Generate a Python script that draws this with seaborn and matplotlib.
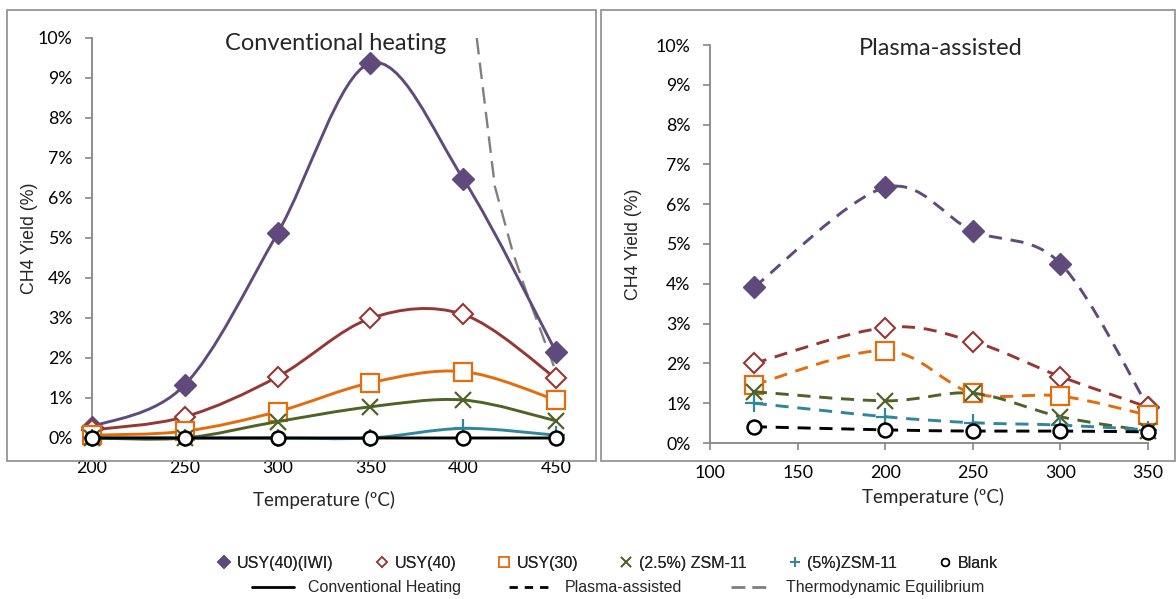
import numpy as np
import matplotlib
matplotlib.use("Agg")
import matplotlib.pyplot as plt
from matplotlib.path import Path
from matplotlib.patches import PathPatch, Rectangle
from matplotlib.lines import Line2D
from matplotlib.ticker import FuncFormatter, MultipleLocator
import seaborn as sns

# Conventional heating: temperature (°C) and CH4 yield (%)
conv_temp = [200, 250, 300, 350, 400, 450]
conv_usy40_iwi = [0.28, 1.33, 5.12, 9.37, 6.48, 2.15]
conv_usy40 = [0.20, 0.53, 1.53, 2.99, 3.09, 1.49]
conv_usy30 = [0.07, 0.17, 0.66, 1.38, 1.66, 0.95]
conv_zsm11_25 = [0.0, 0.0, 0.41, 0.78, 0.95, 0.43]
conv_zsm11_5 = [0.0, 0.0, 0.0, 0.0, 0.24, 0.07]
conv_blank = [0.0, 0.0, 0.0, 0.0, 0.0, 0.0]

# Thermodynamic equilibrium CH4 yield (%)
eq_temp = [407.3, 417.1, 426.8, 434.2, 443.0, 450.0]
eq_yield = [10.0, 6.28, 4.63, 3.63, 2.53, 1.65]

# Plasma-assisted: temperature (°C) and CH4 yield (%)
plasma_temp = [125, 200, 250, 300, 350]
plasma_usy40_iwi = [3.91, 6.42, 5.33, 4.51, 0.91]
plasma_usy40 = [2.00, 2.90, 2.55, 1.67, 0.90]
plasma_usy30 = [1.46, 2.32, 1.25, 1.18, 0.70]
plasma_zsm11_25 = [1.29, 1.06, 1.25, 0.66, 0.30]
plasma_zsm11_5 = [1.00, 0.66, 0.51, 0.45, 0.33]
plasma_blank = [0.41, 0.33, 0.30, 0.30, 0.28]

series_labels = ["USY(40)(IWI)", "USY(40)", "USY(30)", "(2.5%) ZSM-11", "(5%)ZSM-11", "Blank"]
mode_labels = ["Conventional Heating", "Plasma-assisted", "Thermodynamic Equilibrium"]

PURPLE, RED, ORANGE, GREEN, TEAL, BLACK = "#604A7B", "#953735", "#E46C0A", "#4F6228", "#31859C", "#000000"
GRAY = "#7F7F7F"
AXIS_GRAY = "#868686"

# marker style per catalyst: (marker, size, face, edge, edge width)
styles = [
    ("D", 11, PURPLE, PURPLE, 1.0),
    ("D", 10, "white", RED, 1.5),
    ("s", 12.5, "white", ORANGE, 1.6),
    ("x", 12, GREEN, GREEN, 1.6),
    ("+", 13, TEAL, TEAL, 1.6),
    ("o", 10, "white", BLACK, 1.8),
]

sns.set_theme(style="white")
plt.rcParams["font.family"] = ["Lato", "DejaVu Sans"]
ARIAL = ["Liberation Sans", "DejaVu Sans"]


def smooth_path(x, y):
    """Cubic Bezier path through the points (Catmull-Rom style smoothing)."""
    pts = np.column_stack([x, y]).astype(float)
    n = len(pts)
    verts = [pts[0]]
    codes = [Path.MOVETO]
    for i in range(n - 1):
        p0 = pts[i - 1] if i > 0 else pts[i]
        p1, p2 = pts[i], pts[i + 1]
        p3 = pts[i + 2] if i + 2 < n else pts[i + 1]
        verts += [p1 + (p2 - p0) / 6.0, p2 - (p3 - p1) / 6.0, p2]
        codes += [Path.CURVE4] * 3
    return Path(verts, codes)


def draw_series(ax, x, y, style, color, dashes, z):
    marker, ms, face, edge, mew = style
    ls = (0, dashes) if dashes else "-"
    ax.add_patch(PathPatch(smooth_path(x, y), facecolor="none", edgecolor=color,
                           lw=2.1, linestyle=ls, capstyle="butt", zorder=z,
                           clip_on=False))
    sns.lineplot(x=x, y=y, ax=ax, marker=marker, markersize=ms,
                 markerfacecolor=face, markeredgecolor=edge, markeredgewidth=mew,
                 linestyle="none", color=color, clip_on=False, zorder=z + 0.05)


def style_axes(ax, xmin, xmax):
    ax.set_xlim(xmin, xmax)
    ax.set_ylim(0, 10)
    ax.xaxis.set_major_locator(MultipleLocator(50))
    ax.yaxis.set_major_locator(MultipleLocator(1))
    ax.yaxis.set_major_formatter(FuncFormatter(lambda v, p: f"{v:.0f}%"))
    for side in ("top", "right"):
        ax.spines[side].set_visible(False)
    for side in ("left", "bottom"):
        ax.spines[side].set_color(AXIS_GRAY)
        ax.spines[side].set_linewidth(1.3)
        ax.spines[side].set_zorder(1)
    ax.tick_params(axis="both", which="major", direction="out", length=5, width=1.2,
                   color=AXIS_GRAY, labelsize=12.8, labelcolor="black")
    ax.tick_params(axis="x", pad=11, bottom=True)
    ax.tick_params(axis="y", pad=9, left=True)
    ax.grid(False)
    ax.set_facecolor("none")
    ax.set_xlabel("Temperature (ºC)", fontsize=13.5)
    ax.set_ylabel("CH4 Yield (%)", fontsize=12.8, family=ARIAL)
    ax.xaxis.label.set_va("center")
    ax.yaxis.label.set_va("center")


W, H = 1176, 599
fig = plt.figure(figsize=(W / 100, H / 100), dpi=100)
fig.patch.set_facecolor("white")

# chart-area frames
fig.add_artist(Rectangle((7 / W, 1 - 461 / H), (596 - 7) / W, (461 - 10) / H,
                         transform=fig.transFigure, fill=False, ec="#8C8C8C", lw=1.2))
fig.add_artist(Rectangle((601 / W, 1 - 461 / H), (1175 - 601) / W, (461 - 10) / H,
                         transform=fig.transFigure, fill=False, ec="#8C8C8C", lw=1.2))

ax1 = fig.add_axes([92 / W, 1 - 438 / H, (556 - 92) / W, 400 / H])
ax2 = fig.add_axes([710 / W, 1 - 443 / H, (1148 - 710) / W, 398 / H])

conv_series = [conv_usy40_iwi, conv_usy40, conv_usy30, conv_zsm11_25, conv_zsm11_5, conv_blank]
plasma_series = [plasma_usy40_iwi, plasma_usy40, plasma_usy30, plasma_zsm11_25, plasma_zsm11_5, plasma_blank]
colors = [PURPLE, RED, ORANGE, GREEN, TEAL, BLACK]

# thermodynamic equilibrium curve
ax1.plot(eq_temp, eq_yield, color=GRAY, lw=1.7, dashes=(7, 3.5), zorder=2.5)

for k, (ys, st, c) in enumerate(zip(conv_series, styles, colors)):
    draw_series(ax1, conv_temp, ys, st, c, None, 3 + 0.1 * k)
for k, (ys, st, c) in enumerate(zip(plasma_series, styles, colors)):
    draw_series(ax2, plasma_temp, ys, st, c, (4.5, 3), 3 + 0.1 * k)

style_axes(ax1, 200, 450)
style_axes(ax2, 100, 350)

ax1.xaxis.set_label_coords(0.5, -0.155)
ax1.yaxis.set_label_coords(-0.134, 0.5)
ax2.xaxis.set_label_coords(0.508, -0.136)
ax2.yaxis.set_label_coords(-0.174, 0.5)

ax1.text(0.526, 0.985, "Conventional heating", transform=ax1.transAxes,
         ha="center", va="center", fontsize=17)
ax2.text(0.527, 0.99, "Plasma-assisted", transform=ax2.transAxes,
         ha="center", va="center", fontsize=17)

# legends
marker_handles = []
for (marker, ms, face, edge, mew), c in zip(styles, colors):
    marker_handles.append(Line2D([], [], linestyle="none", marker=marker, markersize=ms * 0.55,
                                 markerfacecolor=face, markeredgecolor=edge,
                                 markeredgewidth=1.2))
leg1 = fig.legend(marker_handles, series_labels, loc="center", bbox_to_anchor=(0.517, 0.06),
                  ncol=6, frameon=False, handlelength=0.8, handletextpad=0.4,
                  columnspacing=2.6, prop={"family": ARIAL, "size": 11.5})
fig.add_artist(leg1)

line_handles = [
    Line2D([], [], color=BLACK, lw=2.0),
    Line2D([], [], color=BLACK, lw=2.0, dashes=(3, 2.5)),
    Line2D([], [], color=GRAY, lw=2.0, dashes=(5, 2.5)),
]
fig.legend(line_handles, mode_labels, loc="center", bbox_to_anchor=(0.526, 0.0184),
           ncol=3, frameon=False, handlelength=2.6, handletextpad=0.9,
           columnspacing=3.0, prop={"family": ARIAL, "size": 11.5})

fig.savefig("out.png", dpi=100)
